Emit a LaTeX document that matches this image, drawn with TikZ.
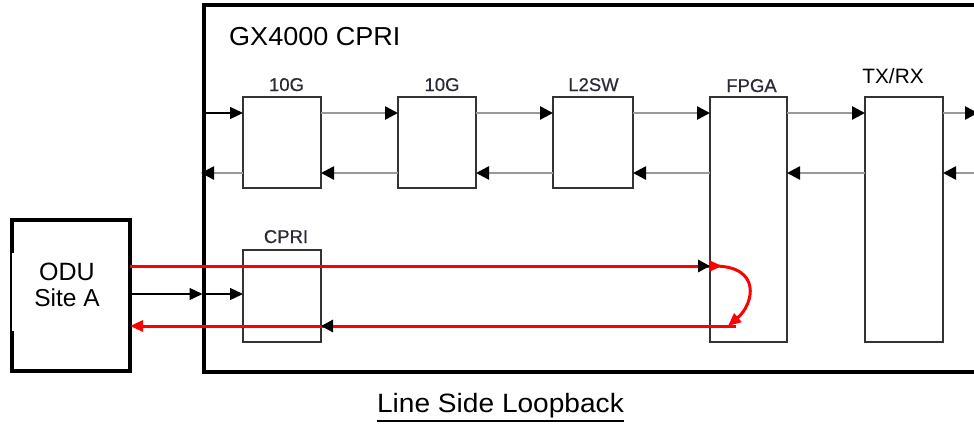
\documentclass[tikz,border=0pt]{standalone}
\usepackage{fontspec}
\setmainfont{Liberation Sans}
\newfontfamily\lblfont[FakeBold=0.6]{Liberation Sans}
\usetikzlibrary{arrows.meta}
\definecolor{boxline}{HTML}{333333}
\definecolor{flow}{HTML}{999999}
\definecolor{loopred}{HTML}{FF0000}
\definecolor{lbltext}{HTML}{2A2A36}
\begin{document}
\begin{tikzpicture}[x=1pt,y=-1pt,
  unitbox/.style={draw=boxline,line width=1.4pt,inner sep=0pt,outer sep=0pt},
  heavybox/.style={draw=black,line width=4.3pt,inner sep=0pt,outer sep=0pt},
  flowarr/.style={draw=flow,line width=2.6pt,-{Triangle[length=13pt,width=13pt,color=black]}},
  darkarr/.style={draw=black,line width=1.3pt,-{Triangle[length=13pt,width=12pt,color=black]}},
  hiddenarr/.style={draw=loopred,line width=3pt,-{Triangle[length=12pt,width=12pt,color=black]}},
  redarr/.style={draw=loopred,line width=3pt,-{Triangle[length=13pt,width=11pt,color=loopred]}},
  smalllbl/.style={inner sep=0pt,anchor=base,text=lbltext,font=\lblfont\fontsize{18.5}{22}\selectfont},
  biglbl/.style={inner sep=0pt,anchor=base,text=black,font=\fontsize{25}{30}\selectfont}
]
\useasboundingbox (0,0) rectangle (974,423);

% rows
\coordinate (r1) at (0,113);
\coordinate (r2) at (0,173);
\coordinate (rt) at (0,266);
\coordinate (rc) at (0,294);
\coordinate (rb) at (0,326);
\coordinate (outR) at (978,113);
\coordinate (inR) at (990,173);

% outer chassis and ODU
\node[heavybox,minimum width=796pt,minimum height=367pt] (gx) at (602,188.5) {};
\node[heavybox,minimum width=118pt,minimum height=151pt] (odu) at (71,295.5) {};
\fill[white] (12.2,253) rectangle (97,331);

% inner boxes
\node[unitbox,minimum width=78pt,minimum height=91pt] (t1) at (282,142.5) {};
\node[unitbox,minimum width=78pt,minimum height=91pt] (t2) at (437,142.5) {};
\node[unitbox,minimum width=80pt,minimum height=91pt] (l2) at (593,142.5) {};
\node[unitbox,minimum width=77pt,minimum height=245pt] (fpga) at (748.5,219.5) {};
\node[unitbox,minimum width=78pt,minimum height=245pt] (txrx) at (904,219.5) {};
\node[unitbox,minimum width=78pt,minimum height=92pt] (cpri) at (282,296) {};

% labels
\node[biglbl,anchor=base west] (gxlbl) at (229,45) {\fontsize{26}{30}\selectfont\scalebox{1.04}[1]{GX4000 CPRI}};
\node[smalllbl] (t1lbl) at (286.5,91) {10G};
\node[smalllbl] (t2lbl) at (442,91) {10G};
\node[smalllbl] (l2lbl) at (593.5,91) {L2SW};
\node[smalllbl] (fplbl) at (751.5,92) {FPGA};
\node[smalllbl] (cplbl) at (286,243) {CPRI};
\node[inner sep=0pt,anchor=base,text=black,font=\fontsize{20.8}{24}\selectfont] (txlbl) at (893,83) {TX/RX};
\node[biglbl] (odulbl) at (67,280) {ODU};
\node[biglbl,font=\fontsize{24.5}{30}\selectfont] (sitelbl) at (67,306) {Site A};
\node[biglbl,font=\fontsize{26.5}{30}\selectfont] (caption) at (500.5,412) {\scalebox{1.06}[1]{Line Side Loopback}};
\draw[line width=2pt] ([yshift=-9pt]caption.base west) -- ([yshift=-9pt]caption.base east);

% upper path (to the right)
\draw[darkarr] (gx.west |- r1) -- (t1.west |- r1);
\draw[flowarr] (t1.east |- r1) -- (t2.west |- r1);
\draw[flowarr] (t2.east |- r1) -- (l2.west |- r1);
\draw[flowarr] (l2.east |- r1) -- (fpga.west |- r1);
\draw[flowarr] (fpga.east |- r1) -- (txrx.west |- r1);
\draw[flowarr] (txrx.east |- r1) -- (outR);

% lower path (to the left)
\draw[flowarr,shorten >=-3pt] (t1.west |- r2) -- (gx.west |- r2);
\draw[flowarr] (t2.west |- r2) -- (t1.east |- r2);
\draw[flowarr] (l2.west |- r2) -- (t2.east |- r2);
\draw[flowarr] (fpga.west |- r2) -- (l2.east |- r2);
\draw[flowarr] (txrx.west |- r2) -- (fpga.east |- r2);
\draw[flowarr] (inR) -- (txrx.east |- r2);

% ODU to CPRI
\draw[darkarr,shorten >=1.5pt] (odu.east |- rc) -- (gx.west |- rc);
\draw[darkarr] (gx.west |- rc) -- (cpri.west |- rc);

% loopback
\coordinate (lbA) at (722,266);
\coordinate (lbS) at (714,266);
\coordinate (lbE) at (728,326);
\coordinate (lbB) at (736,326);
\draw[redarr] (odu.east |- rt) -- (lbA);
\draw[redarr] (lbS) .. controls (762,266) and (754,304) .. (lbE);
\draw[redarr] (lbB) -- (odu.east |- rb);
\draw[hiddenarr] (cpri.east |- rt) -- (fpga.west |- rt);
\draw[hiddenarr] (fpga.west |- rb) -- (cpri.east |- rb);
\end{tikzpicture}
\end{document}
